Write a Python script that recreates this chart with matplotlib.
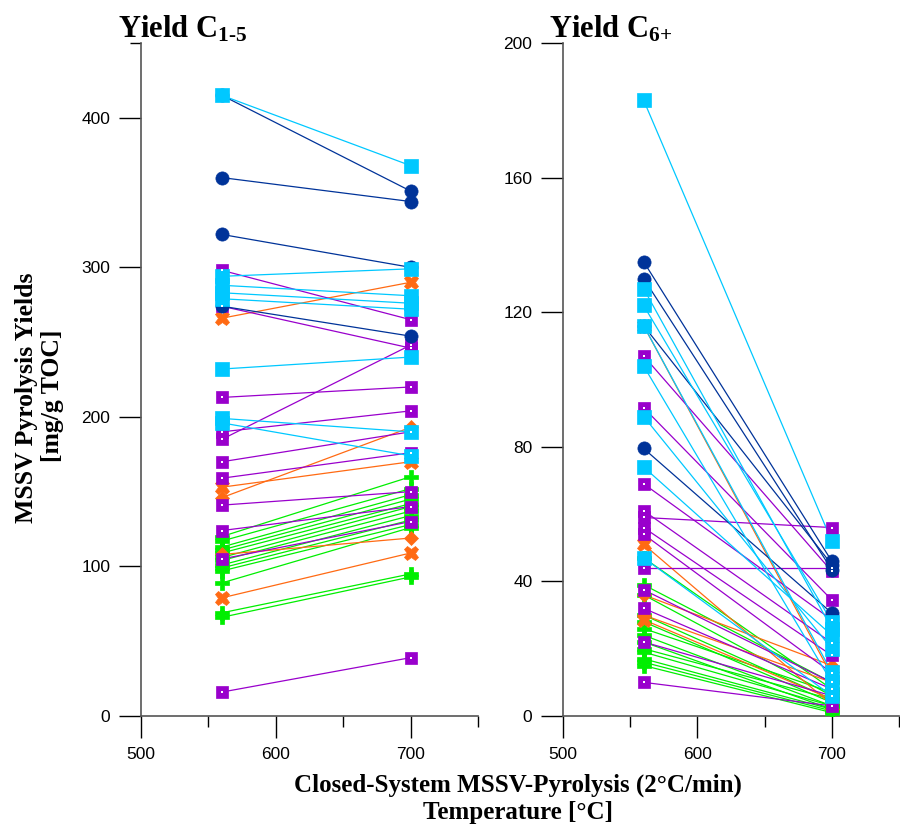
import matplotlib
matplotlib.use("Agg")
import matplotlib.pyplot as plt
from matplotlib.ticker import FixedLocator

# temperatures of the two pyrolysis steps
temps = [560, 700]

# Yield C1-5 [mg/g TOC], value at 560 and at 700 degC per sample group
c15_lblue_560 = [415, 294, 288, 283, 279, 232, 199, 196]
c15_lblue_700 = [368, 299, 281, 276, 272, 240, 190, 174]
c15_dblue_560 = [415, 360, 322, 274]
c15_dblue_700 = [351, 344, 300, 254]
c15_purple_560 = [298, 274, 213, 190, 185, 170, 159, 141, 124, 105, 16]
c15_purple_700 = [265, 246, 220, 204, 248, 190, 176, 150, 140, 130, 39]
c15_orx_560 = [266, 153, 79]
c15_orx_700 = [290, 170, 109]
c15_ord_560 = [146, 108]
c15_ord_700 = [193, 119]
c15_green_560 = [120, 117, 113, 111, 109, 106, 104, 101, 99, 97, 89, 69, 66]
c15_green_700 = [160, 152, 148, 145, 142, 140, 137, 134, 131, 128, 126, 95, 93]

# Yield C6+ [mg/g TOC]
c6_lblue_560 = [183, 127, 122, 116, 104, 89, 74, 47]
c6_lblue_700 = [52, 26, 28, 13, 10, 20, 24, 6]
c6_dblue_560 = [135, 130, 79.5, 116]
c6_dblue_700 = [46, 43.5, 30.6, 45]
c6_purple_560 = [107, 91.6, 69, 61, 59, 56, 54, 44, 37.5, 32, 22, 10]
c6_purple_700 = [43, 34.5, 28.6, 21.7, 56, 18, 12.8, 44, 10, 8, 6, 3]
c6_orx_560 = [116, 51, 28.6]
c6_orx_700 = [12, 3.3, 5]
c6_ord_560 = [36, 30]
c6_ord_700 = [15, 10]
c6_green_560 = [47, 39, 36, 30, 28, 26, 24, 22, 20, 19, 17, 16, 15]
c6_green_700 = [8, 10, 6, 5, 4, 7, 3, 2, 5, 3, 2, 1.5, 1]

LBLUE = '#00C8FF'
DBLUE = '#003399'
PURPLE = '#9900CC'
ORANGE = '#FF6A13'
GREEN = '#00EE00'

plt.rcParams['font.family'] = ['Liberation Sans', 'DejaVu Sans']
plt.rcParams['mathtext.fontset'] = 'custom'
plt.rcParams['mathtext.rm'] = 'Liberation Serif:bold'
plt.rcParams['mathtext.default'] = 'rm'


def draw_group(ax, y560, y700, color, marker, ms, inner=False):
    for a, b in zip(y560, y700):
        ax.plot(temps, [a, b], color=color, lw=0.9, zorder=2)
    for a, b in zip(y560, y700):
        ax.plot(temps, [a, b], ls='none', marker=marker, ms=ms, color=color,
                mec=color, mew=0.5, zorder=3)
        if inner:
            ax.plot(temps, [a, b], ls='none', marker='s', ms=1.8, color='white',
                    mec='white', mew=0, zorder=4)


def style_axes(ax, ymax, yticks):
    ax.set_xlim(500, 750)
    ax.set_ylim(0, ymax)
    for s in ['top', 'right']:
        ax.spines[s].set_visible(False)
    for s in ['left', 'bottom']:
        ax.spines[s].set_color('#555555')
        ax.spines[s].set_linewidth(1.2)
    ax.set_xticks([500, 600, 700])
    ax.xaxis.set_minor_locator(FixedLocator([550, 650, 750]))
    ax.set_yticks(yticks)
    ax.tick_params(which='major', direction='out', length=16, width=1,
                   labelsize=12.5, pad=6, color='black')
    ax.tick_params(which='minor', direction='out', length=8, width=1, color='black')
    ax.patch.set_visible(False)


fig = plt.figure(figsize=(9, 8.25), dpi=100)
ax1 = fig.add_axes([141 / 900, 109 / 825, 337 / 900, 673 / 825])
ax2 = fig.add_axes([563 / 900, 109 / 825, 336 / 900, 673 / 825])

for ax, d in [(ax1, (c15_lblue_560, c15_lblue_700, c15_dblue_560, c15_dblue_700,
                     c15_purple_560, c15_purple_700, c15_orx_560, c15_orx_700,
                     c15_ord_560, c15_ord_700, c15_green_560, c15_green_700)),
              (ax2, (c6_lblue_560, c6_lblue_700, c6_dblue_560, c6_dblue_700,
                     c6_purple_560, c6_purple_700, c6_orx_560, c6_orx_700,
                     c6_ord_560, c6_ord_700, c6_green_560, c6_green_700))]:
    draw_group(ax, d[10], d[11], GREEN, 'P', 10.5)
    draw_group(ax, d[6], d[7], ORANGE, 'X', 10.5)
    draw_group(ax, d[8], d[9], ORANGE, 'D', 7.5)
    draw_group(ax, d[4], d[5], PURPLE, 's', 9, inner=True)
    draw_group(ax, d[2], d[3], DBLUE, 'o', 9.5)
    draw_group(ax, d[0], d[1], LBLUE, 's', 9.5)

style_axes(ax1, 450, [0, 100, 200, 300, 400])
ax1.yaxis.set_minor_locator(FixedLocator([450]))
style_axes(ax2, 200, [0, 40, 80, 120, 160, 200])
ax2.yaxis.set_minor_locator(FixedLocator([]))

fig.text(118 / 900, 1 - 37 / 825, r'Yield C$_{1\text{-}5}$', fontsize=22,
         family='Liberation Serif', weight='bold', va='baseline', ha='left')
fig.text(549 / 900, 1 - 37 / 825, r'Yield C$_{6\text{+}}$', fontsize=22,
         family='Liberation Serif', weight='bold', va='baseline', ha='left')

fig.text(518 / 900, 1 - 785 / 825, 'Closed-System MSSV-Pyrolysis (2°C/min)',
         fontsize=18, family='Liberation Serif', weight='bold',
         ha='center', va='center')
fig.text(518 / 900, 1 - 812 / 825, 'Temperature [°C]',
         fontsize=18, family='Liberation Serif', weight='bold',
         ha='center', va='center')
fig.text(27 / 900, 1 - 398 / 825, 'MSSV Pyrolysis Yields',
         fontsize=18.5, family='Liberation Serif', weight='bold',
         ha='center', va='center', rotation=90)
fig.text(53 / 900, 1 - 396 / 825, '[mg/g TOC]',
         fontsize=18.5, family='Liberation Serif', weight='bold',
         ha='center', va='center', rotation=90)

fig.savefig('out.png', dpi=100)
